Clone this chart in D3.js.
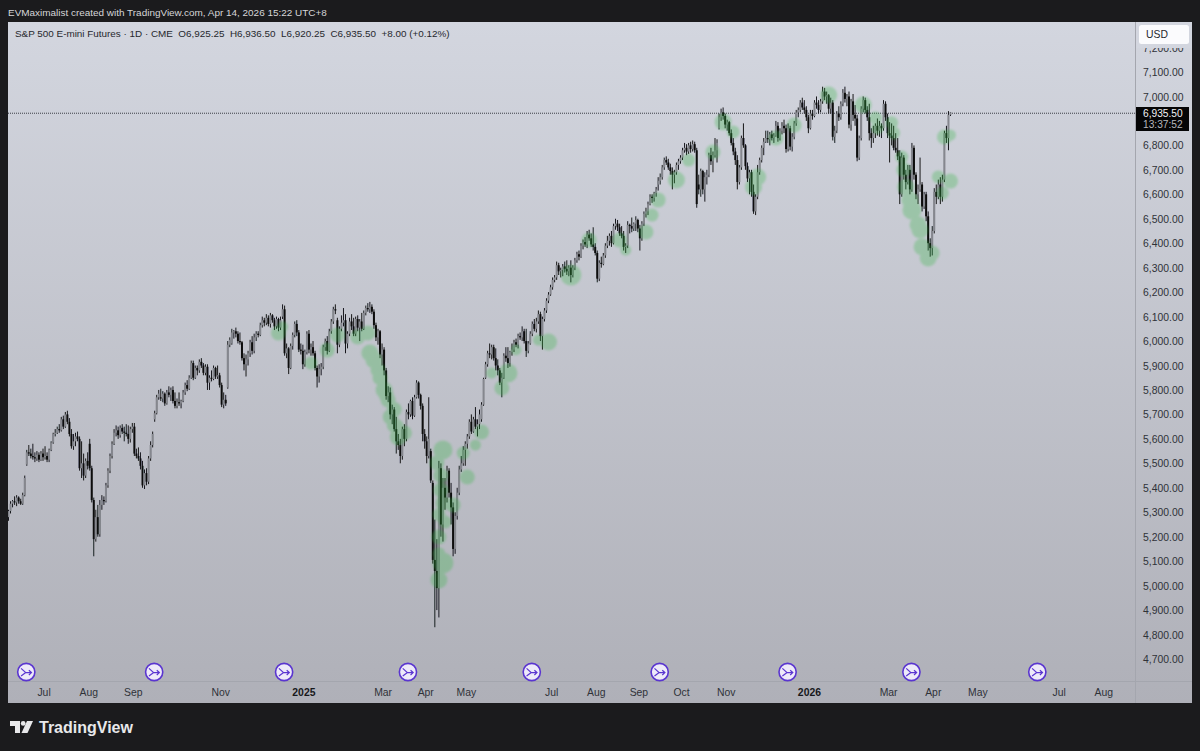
<!DOCTYPE html>
<html><head><meta charset="utf-8">
<script src="https://cdn.jsdelivr.net/npm/d3@7/dist/d3.min.js"></script>
<style>html,body{margin:0;padding:0;background:#1b1b1d;overflow:hidden}svg{display:block}
text{font-family:"Liberation Sans",Arial,sans-serif}</style></head><body><div id="chart"></div>
<script>
// Each row: open, high, low, close (ES points)
const jun24=[[5280,5310,5265,5305],[5305,5345,5295,5335],[5335,5350,5320,5345],[5345,5365,5330,5340],[5340,5370,5325,5360],[5360,5365,5335,5345],[5345,5355,5330,5335],[5335,5380,5330,5370],[5370,5450,5365,5440],[5495,5555,5490,5545],[5545,5575,5530,5540],[5540,5560,5520,5530],[5530,5580,5515,5525],[5525,5545,5505,5520],[5520,5550,5510,5535],[5535,5545,5505,5515],[5515,5550,5510,5540],[5540,5560,5510,5525]];
const jul24=[[5525,5570,5515,5530],[5530,5545,5505,5515],[5515,5560,5505,5555],[5555,5590,5550,5585],[5585,5625,5580,5620],[5620,5640,5610,5625],[5625,5650,5620,5640],[5640,5660,5625,5635],[5635,5690,5630,5680],[5680,5695,5640,5650],[5650,5710,5645,5700],[5700,5715,5660,5670],[5670,5685,5610,5620],[5620,5640,5560,5570],[5570,5620,5555,5590],[5590,5625,5570,5610],[5610,5630,5590,5600],[5600,5610,5470,5480],[5480,5590,5440,5500],[5500,5540,5430,5450],[5450,5520,5440,5510],[5510,5545,5475,5490]];
const aug24=[[5580,5600,5470,5480],[5480,5490,5340,5350],[5350,5360,5120,5190],[5190,5310,5180,5280],[5280,5330,5200,5210],[5210,5350,5200,5330],[5330,5370,5310,5350],[5350,5365,5330,5345],[5345,5420,5340,5410],[5410,5480,5400,5470],[5470,5540,5460,5530],[5530,5590,5520,5580],[5580,5640,5575,5625],[5625,5655,5610,5635],[5635,5650,5600,5615],[5615,5655,5605,5645],[5645,5660,5620,5630],[5630,5650,5590,5625],[5625,5660,5610,5620],[5620,5655,5580,5600],[5600,5650,5585,5640],[5640,5665,5625,5650]];
const sep24=[[5650,5665,5530,5540],[5540,5560,5520,5530],[5530,5565,5510,5520],[5520,5545,5475,5490],[5490,5510,5400,5410],[5410,5475,5395,5460],[5460,5480,5410,5425],[5425,5530,5415,5520],[5520,5590,5510,5575],[5575,5630,5565,5620],[5680,5715,5670,5705],[5705,5780,5700,5770],[5770,5800,5760,5785],[5770,5805,5755,5765],[5765,5795,5750,5785],[5785,5790,5735,5745],[5745,5800,5740,5790],[5790,5815,5770,5780],[5780,5810,5755,5800],[5800,5815,5745,5755],[5755,5790,5725,5735]];
const oct24=[[5735,5765,5725,5750],[5750,5790,5735,5745],[5745,5760,5725,5755],[5755,5800,5750,5790],[5790,5830,5780,5820],[5820,5840,5795,5805],[5805,5860,5800,5850],[5850,5920,5845,5910],[5910,5920,5840,5850],[5850,5900,5845,5890],[5890,5900,5860,5880],[5880,5925,5870,5915],[5915,5930,5890,5900],[5900,5910,5860,5870],[5870,5905,5860,5895],[5895,5905,5800,5830],[5830,5860,5800,5850],[5850,5880,5835,5845],[5845,5900,5840,5890],[5890,5895,5845,5855],[5855,5900,5845,5860],[5860,5870,5810,5820]];
const nov24=[[5820,5830,5730,5740],[5740,5790,5725,5760],[5760,5780,5735,5745],[5810,6000,5805,5985],[5985,6015,5975,6005],[5990,6050,5985,6035],[6035,6045,6010,6040],[6040,6055,6015,6030],[6030,6040,5990,6000],[6000,6035,5985,5995],[5995,6000,5920,5930],[5930,5950,5880,5905],[5905,5945,5855,5925],[5925,5960,5900,5950],[5950,6005,5935,5995],[5995,6020,5945,5960],[5960,6030,5950,6015],[6015,6040,6000,6030],[6030,6040,6015,6025],[6025,6075,6020,6065]];
const dec24=[[6065,6100,6055,6085],[6085,6095,6060,6075],[6075,6110,6065,6095],[6095,6105,6060,6070],[6070,6115,6055,6105],[6105,6110,6075,6085],[6085,6095,6045,6060],[6060,6100,6050,6090],[6090,6095,6040,6055],[6055,6100,6045,6085],[6100,6150,6090,6130],[6130,6145,5940,5950],[5950,5990,5930,5970],[5970,5975,5865,5890],[5890,5990,5885,5980],[5980,6035,5965,6025],[6025,6080,6015,6070],[6070,6085,6020,6035],[6035,6045,5955,5965],[5965,5990,5945,5960],[5960,5985,5885,5905]];
const jan25=[[5905,5965,5895,5955],[5955,6040,5945,6030],[6030,6045,5950,5965],[5965,5990,5940,5975],[5975,6000,5940,5950],[5950,5960,5880,5890],[5890,5900,5810,5855],[5855,5905,5830,5885],[5885,5910,5860,5895],[5895,5985,5885,5975],[5975,6010,5960,6000],[6000,6020,5945,5960],[5960,6050,5955,6040],[6040,6090,6030,6080],[6080,6140,6070,6130],[6130,6150,6110,6125],[6085,6095,5950,5985],[5985,6060,5975,6050],[6050,6105,6040,6075],[6075,6135,6060,6085]];
const feb25=[[6085,6110,5950,5990],[5990,6040,5970,6030],[6030,6095,6020,6080],[6080,6110,6045,6060],[6060,6095,6020,6030],[6030,6100,6020,6090],[6090,6105,6040,6055],[6055,6090,6000,6080],[6080,6115,6040,6050],[6050,6125,6045,6115],[6115,6145,6105,6135],[6135,6155,6120,6130],[6130,6160,6115,6140],[6140,6150,6110,6120],[6120,6130,6050,6065],[6065,6075,6000,6015],[6015,6050,5985,6040],[6040,6045,5930,5945],[5945,5990,5900,5965]];
const mar25=[[5965,5975,5860,5880],[5880,5890,5760,5775],[5775,5815,5750,5790],[5790,5810,5680,5700],[5700,5740,5660,5720],[5720,5730,5630,5640],[5640,5690,5540,5590],[5590,5620,5555,5575],[5575,5600,5500,5530],[5530,5650,5515,5640],[5640,5660,5570,5600],[5600,5720,5590,5710],[5710,5745,5680,5700],[5700,5760,5690,5755],[5755,5770,5680,5695],[5695,5780,5690,5770],[5770,5840,5765,5830],[5830,5835,5765,5780],[5780,5785,5720,5735],[5735,5745,5590,5620],[5620,5640,5560,5590]];
const apr25=[[5590,5610,5500,5530],[5530,5770,5520,5600],[5550,5560,5420,5430],[5420,5430,5090,5105],[5105,5270,4830,5060],[5060,5190,4900,4990],[4990,5510,4870,5480],[5480,5500,5200,5250],[5250,5440,5180,5400],[5400,5440,5310,5360],[5360,5490,5340,5470],[5470,5480,5360,5380],[5380,5420,5250,5320],[5320,5340,5120,5150],[5150,5300,5130,5285],[5285,5400,5270,5380],[5380,5490,5370,5475],[5475,5530,5465,5500],[5500,5570,5490,5555],[5555,5590,5490,5580]];
const may25=[[5580,5620,5560,5610],[5610,5680,5600,5670],[5670,5700,5620,5630],[5630,5690,5625,5680],[5680,5730,5640,5650],[5650,5680,5610,5660],[5660,5720,5640,5700],[5680,5750,5670,5740],[5740,5850,5735,5845],[5850,5915,5845,5905],[5905,5960,5895,5950],[5950,5990,5930,5945],[5945,5985,5925,5975],[5975,5985,5920,5930],[5930,5970,5880,5900],[5900,5925,5860,5880],[5880,5890,5820,5830],[5830,5870,5770,5850],[5850,5950,5845,5940],[5940,5975,5915,5930],[5930,5975,5890,5910]];
const jun25=[[5910,5960,5895,5955],[5955,5990,5940,5965],[5965,6005,5955,5995],[5995,6010,5975,5985],[5985,6030,5970,6020],[6020,6035,6005,6015],[6015,6060,6000,6040],[6040,6050,5990,6000],[6000,6050,5935,5960],[5960,6000,5950,5990],[5990,6040,5985,6030],[6030,6080,6020,6070],[6070,6090,6040,6050],[6050,6095,6035,6080],[6080,6125,6070,6110],[6110,6120,6000,6020],[6020,6100,5965,6090],[6090,6135,6080,6125],[6125,6175,6115,6165],[6165,6200,6155,6190],[6190,6230,6185,6220]];
const jul25=[[6220,6260,6210,6250],[6250,6270,6240,6260],[6260,6325,6250,6310],[6310,6320,6270,6285],[6285,6300,6260,6290],[6290,6315,6265,6305],[6305,6325,6280,6295],[6295,6330,6270,6285],[6285,6310,6265,6300],[6300,6330,6240,6270],[6270,6310,6260,6300],[6300,6340,6290,6330],[6330,6365,6320,6355],[6355,6370,6330,6345],[6345,6400,6340,6390],[6390,6415,6375,6405],[6405,6425,6385,6395],[6395,6450,6380,6435],[6435,6455,6410,6420],[6420,6440,6385,6395],[6395,6465,6370,6385],[6385,6400,6350,6360]];
const aug25=[[6360,6370,6240,6255],[6255,6330,6245,6320],[6320,6345,6300,6315],[6315,6360,6310,6350],[6350,6400,6340,6390],[6390,6430,6380,6410],[6410,6440,6390,6430],[6430,6450,6385,6400],[6400,6480,6395,6470],[6470,6500,6455,6480],[6480,6495,6450,6465],[6465,6480,6430,6440],[6440,6470,6420,6430],[6430,6450,6370,6385],[6385,6400,6360,6390],[6390,6490,6380,6475],[6475,6480,6440,6470],[6470,6505,6445,6460],[6460,6485,6450,6480],[6480,6510,6450,6495],[6495,6500,6445,6460]];
const sep25=[[6460,6475,6370,6420],[6420,6490,6410,6480],[6480,6530,6470,6520],[6520,6545,6505,6530],[6530,6570,6515,6560],[6560,6600,6555,6590],[6590,6600,6565,6585],[6585,6610,6570,6605],[6605,6630,6590,6620],[6640,6670,6615,6655],[6655,6685,6640,6670],[6670,6720,6660,6710],[6710,6750,6700,6740],[6740,6755,6720,6730],[6730,6745,6700,6710],[6710,6725,6680,6695],[6695,6710,6620,6680],[6680,6700,6645,6690],[6690,6730,6680,6720],[6720,6745,6700,6735],[6735,6760,6725,6750]];
const oct25=[[6750,6790,6740,6780],[6780,6810,6770,6790],[6790,6805,6760,6775],[6775,6810,6765,6800],[6800,6815,6770,6785],[6785,6820,6775,6805],[6805,6815,6770,6780],[6780,6790,6545,6560],[6640,6680,6600,6620],[6620,6705,6590,6695],[6695,6700,6600,6620],[6620,6690,6570,6670],[6670,6700,6640,6680],[6680,6770,6670,6760],[6760,6790,6720,6735],[6735,6775,6690,6760],[6760,6830,6750,6780],[6780,6825,6730,6810],[6870,6930,6865,6915],[6915,6950,6900,6935],[6935,6955,6905,6920],[6920,6930,6870,6885]];
const nov25=[[6885,6905,6860,6895],[6895,6900,6840,6850],[6850,6865,6800,6810],[6810,6830,6760,6775],[6775,6790,6720,6740],[6740,6760,6620,6650],[6650,6720,6640,6710],[6710,6840,6700,6830],[6830,6890,6790,6800],[6800,6805,6700,6715],[6715,6730,6650,6665],[6665,6700,6600,6690],[6690,6700,6590,6610],[6610,6640,6520,6530],[6530,6600,6515,6590],[6590,6720,6580,6690],[6690,6750,6680,6740],[6740,6800,6730,6790],[6790,6830,6760,6815],[6815,6860,6810,6830]];
const dec25=[[6830,6860,6810,6825],[6825,6855,6800,6845],[6845,6860,6820,6830],[6830,6850,6810,6840],[6840,6900,6835,6880],[6880,6895,6815,6830],[6830,6870,6820,6860],[6860,6895,6845,6880],[6880,6905,6850,6870],[6870,6885,6770,6785],[6785,6890,6775,6870],[6870,6880,6780,6795],[6795,6850,6775,6835],[6835,6900,6825,6890],[6890,6945,6880,6935],[6935,6955,6915,6945],[6945,6985,6935,6975],[6975,6995,6945,6955],[6955,6985,6930,6945],[6945,6960,6900,6915],[6915,6925,6850,6870]];
const jan26=[[6870,6945,6865,6930],[6930,6945,6905,6920],[6920,6985,6915,6975],[6975,7000,6950,6965],[6965,6985,6930,6945],[6945,6990,6935,6980],[6980,7040,6970,7020],[7020,7035,6985,7000],[7000,7020,6970,7005],[7005,7010,6930,6950],[6950,6995,6930,6975],[6975,6985,6820,6835],[6835,6880,6810,6860],[6860,6940,6850,6930],[6930,6960,6900,6915],[6915,6980,6905,6970],[6970,7030,6960,7015],[7015,7040,6975,6990],[6990,7010,6960,7000]];
const feb26=[[7000,7020,6870,6885],[6885,6990,6860,6980],[6980,7010,6900,6925],[6925,6965,6880,6910],[6910,6925,6735,6750],[6750,6840,6740,6830],[6830,6960,6820,6950],[6950,7000,6935,6985],[6985,6995,6930,6945],[6945,6960,6900,6915],[6915,6970,6820,6850],[6850,6870,6790,6830],[6830,6880,6810,6850],[6850,6890,6830,6880],[6880,6910,6840,6860],[6860,6900,6835,6880],[6880,6890,6830,6870],[6870,6985,6860,6970],[6970,6980,6900,6915],[6915,6930,6830,6850]];
const mar26=[[6850,6895,6730,6840],[6840,6890,6800,6830],[6830,6880,6780,6790],[6790,6850,6770,6780],[6780,6830,6740,6755],[6755,6780,6560,6600],[6600,6770,6590,6750],[6750,6760,6660,6680],[6680,6700,6620,6650],[6650,6720,6640,6700],[6700,6720,6600,6620],[6620,6810,6610,6790],[6790,6800,6660,6680],[6680,6690,6580,6600],[6600,6640,6560,6620],[6620,6750,6610,6640],[6640,6650,6530,6550],[6550,6610,6540,6600],[6600,6610,6490,6510],[6510,6530,6370,6400],[6400,6420,6345,6380],[6380,6470,6350,6450]];
const apr26=[[6450,6625,6440,6610],[6610,6640,6560,6590],[6590,6660,6580,6640],[6640,6670,6560,6590],[6590,6680,6570,6660],[6660,6860,6650,6850],[6850,6880,6810,6830],[6830,6940,6780,6925],[6925,6936.5,6920.25,6935.5]];
const bars=d3.merge([jun24,jul24,aug24,sep24,oct24,nov24,dec24,jan25,feb25,mar25,apr25,may25,jun25,jul25,aug25,sep25,oct25,nov25,dec25,jan26,feb26,mar26,apr26]);

// highlighted spots: bar index, price, size
const blobBar=[133,135,149,157,162,172,177,178,180,182,185,187,188,190,192,195,214,211,213,214,219,212,214,212,226,224,233,230,238,246,243,250,266,261,277,286,301,304,314,317,320,329,335,347,352,357,367,369,378,387,404,421,427,428,435,436,440,441,442,444,445,448,449,450,453,455,458,464,460,461,464,183,186,190,191,213,212,212,215];
const blobPrice=[6033,6058,5910,5963,6025,6017,6033,5951,5923,5882,5800,5759,5690,5657,5608,5624,5555,5502,5391,5338,5330,5199,5093,5023,5444,5542,5628,5575,5869,5869,5808,5964,5996,6004,6270,6413,6413,6372,6446,6515,6577,6658,6740,6773,6896,6855,6630,6671,6830,6883,7006,6965,6912,6871,6892,6851,6752,6700,6630,6577,6536,6475,6454,6385,6340,6360,6671,6654,6605,6834,6842,5850,5780,5720,5650,5450,5290,5130,5260];
const blobSize=[7,5,6,7,7,7,7,8,8,7,8,7,7,7,8,7,9,7,7,7,7,7,10,8,7,6,7,5,5,9,7,5,8,5,10,7,7,5,7,6,7,8,6,7,8,6,8,8,7,7,8,8,6,6,6,6,6,7,8,8,9,8,8,8,8,7,6,7,6,7,5,7,7,7,7,7,6,6,6];

// 6,900.00 is covered by the last-price tag in the reference, so it is not listed
const priceTicks=[4700,4800,4900,5000,5100,5200,5300,5400,5500,5600,5700,5800,5900,6000,6100,6200,6300,6400,6500,6600,6700,6800,7000,7100,7200];
const timeTickBars=[18,40,62,105,146,185,206,226,268,290,311,332,354,395,434,456,478,518,540];
const timeTickLabels=["Jul","Aug","Sep","Nov","2025","Mar","Apr","May","Jul","Aug","Sep","Oct","Nov","2026","Mar","Apr","May","Jul","Aug"];
const rolloverBars=[9,72,136,197,258,321,384,445,507];
const lastPrice=6935.5, countdown="13:37:52";
const header="EVMaximalist created with TradingView.com, Apr 14, 2026 15:22 UTC+8";
const legend="S&P 500 E-mini Futures · 1D · CME\u00A0\u00A0O6,925.25\u00A0\u00A0H6,936.50\u00A0\u00A0L6,920.25\u00A0\u00A0C6,935.50\u00A0\u00A0+8.00 (+0.12%)";

const W=1200,H=751,L=8,T=22,R=1192,B=703,AX=1136,AY=682;
const x=d3.scaleLinear().domain([0,464]).range([8.5,950.5]);
const y=d3.scaleLinear().domain([4700,7100]).range([659,72]);
const fmt=d3.format(",.2f");
const svg=d3.select("#chart").append("svg").attr("width",W).attr("height",H);
const defs=svg.append("defs");
const g=defs.append("linearGradient").attr("id","bg").attr("x1",0).attr("x2",0).attr("y1",0).attr("y2",1);
g.append("stop").attr("offset",0).attr("stop-color","#d3d6df");
g.append("stop").attr("offset",1).attr("stop-color","#afb0b8");
defs.append("clipPath").attr("id","pane").append("rect").attr("x",L).attr("y",T).attr("width",AX-L).attr("height",AY-T);
const blur=defs.append("filter").attr("id","soft").attr("x","-20%").attr("y","-20%").attr("width","140%").attr("height","140%");
blur.append("feGaussianBlur").attr("stdDeviation",0.45);
const blur2=defs.append("filter").attr("id","halo").attr("x","-20%").attr("y","-20%").attr("width","140%").attr("height","140%");
blur2.append("feGaussianBlur").attr("stdDeviation",1.2);

svg.append("rect").attr("x",L).attr("y",T).attr("width",R-L).attr("height",B-T).attr("fill","url(#bg)");
svg.append("line").attr("x1",AX-.5).attr("x2",AX-.5).attr("y1",T).attr("y2",B).attr("stroke","#a4a6ae");
svg.append("line").attr("x1",L).attr("x2",R).attr("y1",AY-.5).attr("y2",AY-.5).attr("stroke","#a4a6ae");

const pane=svg.append("g").attr("clip-path","url(#pane)");
pane.append("line").attr("x1",L).attr("x2",AX).attr("y1",y(lastPrice)+1).attr("y2",y(lastPrice)+1)
  .attr("stroke","#3c3e45").attr("stroke-width",1).attr("stroke-dasharray","1 1");

const candles=pane.append("g").attr("filter","url(#soft)");
candles.selectAll("line.w").data(bars).join("line").attr("class","w")
  .attr("x1",(d,i)=>x(i)).attr("x2",(d,i)=>x(i)).attr("y1",d=>y(d[1])).attr("y2",d=>y(d[2]))
  .attr("stroke","#17181b").attr("stroke-width",1);
candles.selectAll("rect").data(bars).join("rect")
  .attr("x",(d,i)=>x(i)-1).attr("width",2)
  .attr("y",d=>y(Math.max(d[0],d[3])))
  .attr("height",d=>Math.max(1,Math.abs(y(d[0])-y(d[3]))))
  .attr("fill",d=>d[3]>=d[0]?"#85878e":"#0e0f11");

pane.append("g").attr("opacity",.3).attr("filter","url(#halo)").selectAll("circle").data(blobBar).join("circle")
  .attr("cx",d=>x(d)).attr("cy",(d,i)=>y(blobPrice[i])).attr("r",(d,i)=>blobSize[i]+.5)
  .attr("fill","#36b545");

// axes
const yAxis=d3.axisRight(y).tickValues(priceTicks).tickSize(0).tickPadding(0).tickFormat(fmt);
const ya=svg.append("g").attr("transform",`translate(${AX+7},0)`).call(yAxis);
ya.select(".domain").remove();
ya.selectAll("text").attr("font-size",10.4).attr("fill","#2f3238").attr("font-family",'"Liberation Sans",Arial,sans-serif').attr("dy","0.34em");

const xAxis=d3.axisBottom(x).tickValues(timeTickBars).tickSize(0).tickPadding(0).tickFormat((d,i)=>timeTickLabels[i]);
const xa=svg.append("g").attr("transform",`translate(-1.5,689)`).call(xAxis);
xa.select(".domain").remove();
xa.selectAll("text").attr("font-size",10.4).attr("font-family",'"Liberation Sans",Arial,sans-serif')
  .attr("font-weight",(d,i)=>/^\d/.test(timeTickLabels[i])?"bold":"normal").attr("fill",(d,i)=>/^\d/.test(timeTickLabels[i])?"#17181b":"#2f3238");

// rollover marks
const ico=svg.append("g").selectAll("g").data(rolloverBars).join("g").attr("transform",d=>`translate(${x(d)-.5},672)`);
ico.append("circle").attr("r",8.6).attr("fill","#eeeaf9").attr("stroke","#5a35d0").attr("stroke-width",1.6);
ico.append("path").attr("d","M-5.2,-3.6 L-0.5,0.6 L5,0.6 M2.6,-1.8 L5.2,0.6 L2.6,3 M-5.2,4 L-0.5,0.6")
  .attr("fill","none").attr("stroke","#5a35d0").attr("stroke-width",1.2);

// price axis top: USD box, cutting off the top tick
svg.append("rect").attr("x",AX+.5).attr("y",T).attr("width",R-AX-.5).attr("height",26).attr("fill","#d3d6df");
svg.append("rect").attr("x",1139).attr("y",25).attr("width",50).attr("height",19).attr("rx",2.5).attr("fill","#fbfbfd");
svg.append("text").attr("x",1146).attr("y",38).attr("font-size",10.4).attr("fill","#26282d").text("USD");

// last price tag
svg.append("rect").attr("x",AX).attr("y",107).attr("width",53).attr("height",24).attr("fill","#050506");
svg.append("text").attr("x",AX+7).attr("y",116.6).attr("font-size",10.2).attr("fill","#f2f2f4").text(fmt(lastPrice));
svg.append("text").attr("x",AX+7).attr("y",128.4).attr("font-size",10.2).attr("fill","#b6b7bc").text(countdown);

// legend and header
svg.append("text").attr("x",15).attr("y",36.5).attr("font-size",9.9).attr("fill","#26282d").text(legend);
svg.append("text").attr("x",8).attr("y",16).attr("font-size",9.95).attr("fill","#d6d6d8").text(header);

// logo
const logo=svg.append("g").attr("fill","#e8e8ea").attr("transform","translate(10,721)");
logo.append("path").attr("d","M0,0 H10 V12 H5 V5 H0 Z");
logo.append("circle").attr("cx",13.2).attr("cy",2.4).attr("r",2.4);
logo.append("path").attr("d","M17,0 H23 L17.5,12 H11.5 Z");
svg.append("text").attr("x",39).attr("y",733).attr("font-size",16).attr("font-weight",600).attr("fill","#e8e8ea")
  .attr("font-family",'Inter,"Liberation Sans",sans-serif').text("TradingView");
</script></body></html>
